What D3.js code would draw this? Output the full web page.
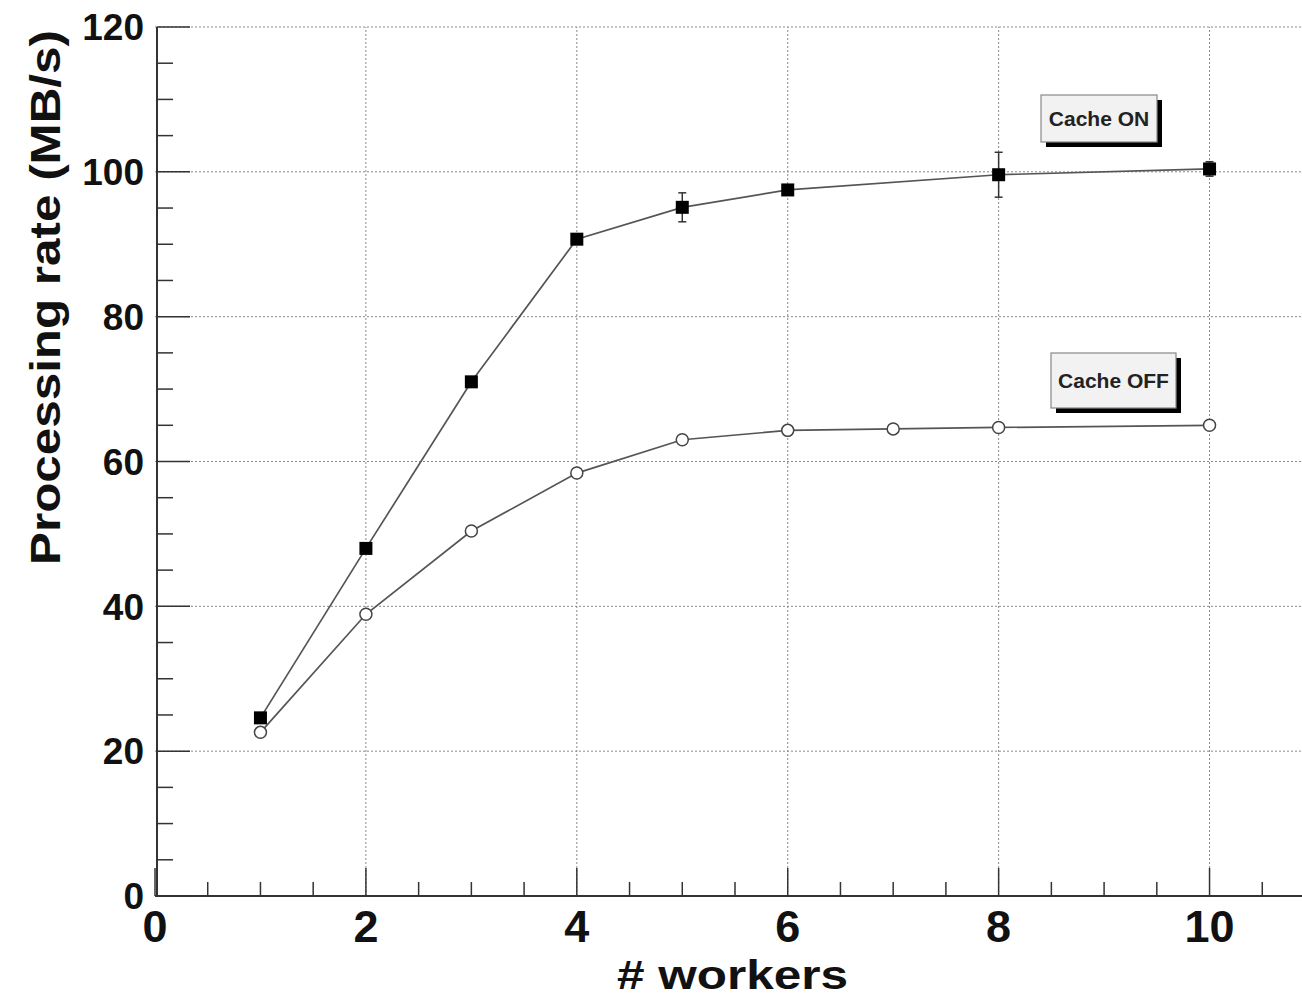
<!DOCTYPE html>
<html>
<head>
<meta charset="utf-8">
<script src="https://cdn.jsdelivr.net/npm/d3@7"></script>
<style>
  html, body { margin: 0; padding: 0; background: #fff; }
  svg { display: block; font-family: "Liberation Sans", Arial, Helvetica, sans-serif; }
</style>
</head>
<body>
<svg id="chart" width="1302" height="998"></svg>
<script>
// Workers used in each run
const workersOn  = [1, 2, 3, 4, 5, 6, 8, 10];
const workersOff = [1, 2, 3, 4, 5, 6, 7, 8, 10];

// Processing rate (MB/s) and its uncertainty
const rateOn   = [24.6, 48.0, 71.0, 90.7, 95.1, 97.5, 99.6, 100.4];
const errOn    = [0, 0, 0, 0, 2.0, 0, 3.1, 1.0];
const rateOff  = [22.6, 38.9, 50.4, 58.4, 63.0, 64.3, 64.5, 64.7, 65.0];

// Axis ticks
const xMajorTicks = [0, 2, 4, 6, 8, 10];
const yMajorTicks = [0, 20, 40, 60, 80, 100, 120];

// Legend captions
const labelOn  = "Cache ON";
const labelOff = "Cache OFF";

const svg = d3.select("#chart");

const x = d3.scaleLinear().domain([0, 11]).range([155, 1315]);
const y = d3.scaleLinear().domain([0, 120]).range([896, 27]);

const xMinor = d3.range(0, 11.01, 0.5).filter(v => !xMajorTicks.includes(v));
const yMinor = d3.range(0, 120.01, 5).filter(v => !yMajorTicks.includes(v));

// Dotted grid
const grid = svg.append("g").attr("stroke", "#8a8a8a").attr("stroke-width", 1)
  .attr("stroke-dasharray", "2,2");
grid.selectAll("line.gx").data(xMajorTicks.filter(v => v > 0)).join("line")
  .attr("x1", d => x(d)).attr("x2", d => x(d))
  .attr("y1", y(0)).attr("y2", y(120));
grid.selectAll("line.gy").data(yMajorTicks.filter(v => v > 0)).join("line")
  .attr("x1", x(0)).attr("x2", 1302)
  .attr("y1", d => y(d)).attr("y2", d => y(d));

// Axes with inward ticks
const axisColor = "#333";
const xAxis = svg.append("g").attr("stroke", axisColor);
xAxis.append("line").attr("x1", x(0)).attr("x2", 1302)
  .attr("y1", y(0)).attr("y2", y(0)).attr("stroke-width", 2);
xAxis.selectAll("line.maj").data(xMajorTicks).join("line")
  .attr("x1", d => x(d)).attr("x2", d => x(d))
  .attr("y1", y(0)).attr("y2", y(0) - 28).attr("stroke-width", 1.5);
xAxis.selectAll("line.min").data(xMinor).join("line")
  .attr("x1", d => x(d)).attr("x2", d => x(d))
  .attr("y1", y(0)).attr("y2", y(0) - 14).attr("stroke-width", 1.5);

const yAxis = svg.append("g").attr("stroke", axisColor);
const yAxisX = x(0) + 2;
yAxis.append("line").attr("x1", yAxisX).attr("x2", yAxisX)
  .attr("y1", y(0)).attr("y2", y(120)).attr("stroke-width", 2);
yAxis.selectAll("line.maj").data(yMajorTicks).join("line")
  .attr("x1", yAxisX).attr("x2", yAxisX + 33)
  .attr("y1", d => y(d)).attr("y2", d => y(d)).attr("stroke-width", 1.5);
yAxis.selectAll("line.min").data(yMinor).join("line")
  .attr("x1", yAxisX).attr("x2", yAxisX + 16)
  .attr("y1", d => y(d)).attr("y2", d => y(d)).attr("stroke-width", 1.5);

// Tick labels
svg.append("g").selectAll("text").data(xMajorTicks).join("text")
  .attr("x", d => x(d)).attr("y", 942)
  .attr("text-anchor", "middle")
  .attr("font-size", 45).attr("font-weight", "bold").attr("fill", "#111")
  .text(d => d);
svg.append("g").selectAll("text").data(yMajorTicks).join("text")
  .attr("x", 144).attr("y", d => y(d))
  .attr("dy", "0.36em")
  .attr("text-anchor", "end")
  .attr("font-size", 37).attr("font-weight", "bold").attr("fill", "#111")
  .text(d => d);

// Axis titles
svg.append("text")
  .attr("x", 848).attr("y", 989)
  .attr("text-anchor", "end")
  .attr("font-size", 41).attr("font-weight", "bold").attr("fill", "#111")
  .attr("textLength", 231).attr("lengthAdjust", "spacingAndGlyphs")
  .text("# workers");
svg.append("text")
  .attr("transform", "translate(60,30) rotate(-90)")
  .attr("text-anchor", "end")
  .attr("font-size", 42).attr("font-weight", "bold").attr("fill", "#111")
  .attr("textLength", 535).attr("lengthAdjust", "spacingAndGlyphs")
  .text("Processing rate (MB/s)");

// Series lines
const line = d3.line().x(d => x(d[0])).y(d => y(d[1]));
const onPts  = workersOn.map((w, i) => [w, rateOn[i], errOn[i]]);
const offPts = workersOff.map((w, i) => [w, rateOff[i]]);

svg.append("path").datum(offPts).attr("d", line)
  .attr("fill", "none").attr("stroke", "#555").attr("stroke-width", 1.7);
svg.append("path").datum(onPts).attr("d", line)
  .attr("fill", "none").attr("stroke", "#555").attr("stroke-width", 1.7);

// Error bars
const eb = svg.append("g").attr("stroke", "#333").attr("stroke-width", 1.5);
const withErr = onPts.filter(d => d[2] > 0);
eb.selectAll("line.v").data(withErr).join("line")
  .attr("x1", d => x(d[0])).attr("x2", d => x(d[0]))
  .attr("y1", d => y(d[1] + d[2])).attr("y2", d => y(d[1] - d[2]));
eb.selectAll("line.t").data(withErr).join("line")
  .attr("x1", d => x(d[0]) - 4).attr("x2", d => x(d[0]) + 4)
  .attr("y1", d => y(d[1] + d[2])).attr("y2", d => y(d[1] + d[2]));
eb.selectAll("line.b").data(withErr).join("line")
  .attr("x1", d => x(d[0]) - 4).attr("x2", d => x(d[0]) + 4)
  .attr("y1", d => y(d[1] - d[2])).attr("y2", d => y(d[1] - d[2]));

// Markers
svg.append("g").selectAll("circle").data(offPts).join("circle")
  .attr("cx", d => x(d[0])).attr("cy", d => y(d[1])).attr("r", 6)
  .attr("fill", "#fff").attr("stroke", "#444").attr("stroke-width", 1.5);
svg.append("g").selectAll("rect").data(onPts).join("rect")
  .attr("x", d => x(d[0]) - 6.5).attr("y", d => y(d[1]) - 6.5)
  .attr("width", 13).attr("height", 13).attr("fill", "#000");

// Caption boxes with drop shadow
function caption(text, bx, by, bw, bh, fs) {
  const g = svg.append("g");
  g.append("rect").attr("x", bx + 5).attr("y", by + 5)
    .attr("width", bw).attr("height", bh).attr("fill", "#000");
  g.append("rect").attr("x", bx).attr("y", by)
    .attr("width", bw).attr("height", bh)
    .attr("fill", "#f2f2f2").attr("stroke", "#888").attr("stroke-width", 1.2);
  g.append("text").attr("x", bx + bw / 2).attr("y", by + bh / 2)
    .attr("dy", "0.36em").attr("text-anchor", "middle")
    .attr("font-size", fs).attr("font-weight", "bold").attr("fill", "#222")
    .text(text);
}
caption(labelOn, 1041, 95, 116, 47, 21);
caption(labelOff, 1051, 353, 125, 55, 21);
</script>
</body>
</html>
